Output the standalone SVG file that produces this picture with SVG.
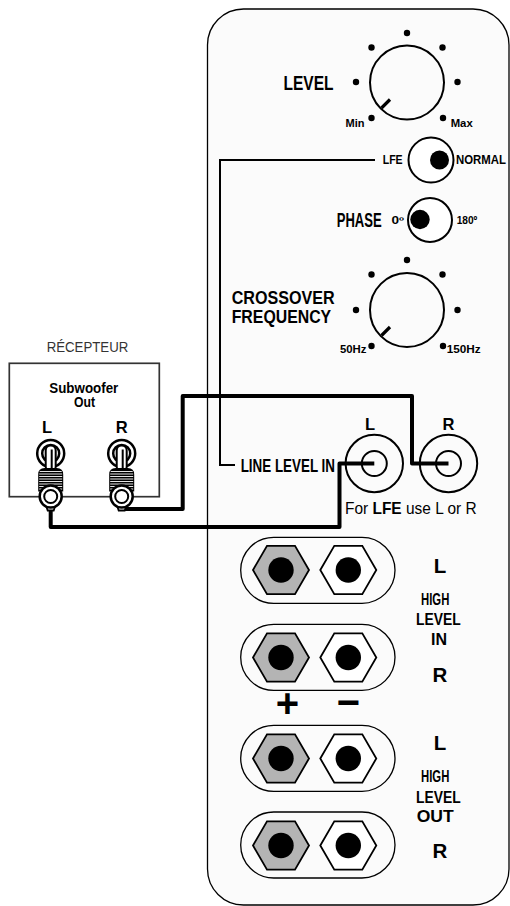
<svg xmlns="http://www.w3.org/2000/svg" xmlns:xlink="http://www.w3.org/1999/xlink" width="510" height="906" viewBox="0 0 510 906">
<style>
.t{font-family:"Liberation Sans",Arial,sans-serif;font-weight:bold;fill:#000}
.n{font-family:"Liberation Sans",Arial,sans-serif;font-weight:normal;fill:#000}
.knob{fill:none;stroke:#000;stroke-width:2}
.dot{fill:#000}
.tick{stroke:#000;stroke-width:3.2;stroke-linecap:butt}
.sw{fill:#fff;stroke:#000;stroke-width:2}
.pill{fill:none;stroke:#000;stroke-width:1.3}
.cable{fill:none;stroke:#000;stroke-width:4;stroke-linejoin:round;stroke-linecap:butt}
.lead{fill:none;stroke:#000;stroke-width:2}
</style>
<defs>
<g id="hexG">
<polygon points="-28,0 -14,-24.2 14,-24.2 28,0 14,24.2 -14,24.2" fill="#b4b4b4" stroke="#000" stroke-width="1.8"/>
<circle r="12.7" fill="#000"/>
</g>
<g id="hexW">
<polygon points="-28,0 -14,-24.2 14,-24.2 28,0 14,24.2 -14,24.2" fill="#fff" stroke="#000" stroke-width="1.8"/>
<circle r="12.7" fill="#000"/>
</g>
<g id="plug">
<circle cx="0" cy="0" r="13.5" fill="#fff" stroke="#000" stroke-width="2.5"/>
<circle cx="0" cy="0" r="8.5" fill="#fff" stroke="#000" stroke-width="2.5"/>
<rect x="-5" y="-8" width="10" height="26" rx="5" fill="#fff" stroke="#000" stroke-width="2"/>
<line x1="1" y1="-4" x2="1" y2="16" stroke="#000" stroke-width="2"/>
<path d="M-12.5,38 L-12.5,21 Q-12.5,14.5 -6,14.5 L6,14.5 Q12.5,14.5 12.5,21 L12.5,38 Z" fill="#000"/>
<g stroke="#fff" stroke-width="0.9">
<line x1="-11" y1="18" x2="11" y2="18"/>
<line x1="-11.5" y1="20.5" x2="11.5" y2="20.5"/>
<line x1="-11.5" y1="23" x2="11.5" y2="23"/>
<line x1="-11.5" y1="25.5" x2="11.5" y2="25.5"/>
<line x1="-11.5" y1="28" x2="11.5" y2="28"/>
<line x1="-11.5" y1="30.5" x2="11.5" y2="30.5"/>
<line x1="-11.5" y1="33" x2="11.5" y2="33"/>
<line x1="-11.5" y1="35.5" x2="11.5" y2="35.5"/>
</g>
<path d="M-6,48 L-3,57 L3,57 L6,48 Z" fill="#fff" stroke="#000" stroke-width="1.8"/>
<circle cx="0" cy="43" r="11" fill="#fff" stroke="#000" stroke-width="2.5"/>
<circle cx="0" cy="43" r="6.5" fill="#fff" stroke="#000" stroke-width="2"/>
</g>
</defs>

<g id="panel">
<rect x="207.5" y="9" width="301.5" height="896" rx="36" ry="36" fill="#fbfbfb" stroke="#000" stroke-width="1.3"/>
</g>

<g id="level-knob">
<circle class="knob" cx="407" cy="82.5" r="37"/>
<line class="tick" x1="390" y1="99.5" x2="381.5" y2="108"/>
<circle class="dot" cx="407" cy="33" r="3.2"/>
<circle class="dot" cx="371.5" cy="47.5" r="3.2"/>
<circle class="dot" cx="442.5" cy="47.5" r="3.2"/>
<circle class="dot" cx="356" cy="82" r="3.2"/>
<circle class="dot" cx="457.5" cy="82" r="3.2"/>
<circle class="dot" cx="371.5" cy="118" r="3.2"/>
<circle class="dot" cx="443" cy="118" r="3.2"/>
<text class="t" x="283.5" y="90" font-size="20.5" textLength="50" lengthAdjust="spacingAndGlyphs">LEVEL</text>
<text class="t" x="345.5" y="127" font-size="11.5" textLength="19" lengthAdjust="spacingAndGlyphs">Min</text>
<text class="t" x="450.7" y="127" font-size="11.5" textLength="22" lengthAdjust="spacingAndGlyphs">Max</text>
</g>

<g id="lfe-switch">
<circle class="sw" cx="431" cy="160" r="22.5"/>
<circle class="dot" cx="439.5" cy="160" r="9.5"/>
<text class="t" x="382.7" y="164" font-size="12" textLength="20" lengthAdjust="spacingAndGlyphs">LFE</text>
<text class="t" x="456" y="164" font-size="12" textLength="50" lengthAdjust="spacingAndGlyphs">NORMAL</text>
</g>

<g id="phase-switch">
<circle class="sw" cx="430" cy="220" r="22"/>
<circle class="dot" cx="420" cy="219.5" r="9.7"/>
<text class="t" transform="translate(336.7,227.3) scale(0.637,1)" x="0" y="0" font-size="20.5">PHASE</text>
<text class="t" x="391.5" y="224" font-size="10" textLength="12.5" lengthAdjust="spacingAndGlyphs">0º</text>
<text class="t" x="456.7" y="224" font-size="10.5" textLength="20.6" lengthAdjust="spacingAndGlyphs">180º</text>
</g>

<g id="crossover-knob">
<circle class="knob" cx="407" cy="310" r="37"/>
<line class="tick" x1="390" y1="327" x2="381.5" y2="335.5"/>
<circle class="dot" cx="407" cy="260" r="3.2"/>
<circle class="dot" cx="371.5" cy="274.5" r="3.2"/>
<circle class="dot" cx="442.5" cy="274.5" r="3.2"/>
<circle class="dot" cx="356" cy="310" r="3.2"/>
<circle class="dot" cx="457.5" cy="310" r="3.2"/>
<circle class="dot" cx="371.5" cy="346" r="3.2"/>
<circle class="dot" cx="443" cy="346" r="3.2"/>
<text class="t" x="231.7" y="304" font-size="18.5" textLength="103" lengthAdjust="spacingAndGlyphs">CROSSOVER</text>
<text class="t" x="231.7" y="323" font-size="18.5" textLength="99.5" lengthAdjust="spacingAndGlyphs">FREQUENCY</text>
<text class="t" x="340" y="353.3" font-size="11" textLength="26.5" lengthAdjust="spacingAndGlyphs">50Hz</text>
<text class="t" x="446.7" y="353.3" font-size="11" textLength="34" lengthAdjust="spacingAndGlyphs">150Hz</text>
</g>

<g id="line-in-L">
<circle cx="374.3" cy="463.5" r="28.7" fill="none" stroke="#000" stroke-width="2"/>
<circle cx="374.3" cy="463.5" r="12.5" fill="none" stroke="#000" stroke-width="2"/>
<text class="t" x="370" y="430" font-size="16.5" text-anchor="middle">L</text>
</g>

<g id="line-in-R">
<circle cx="448.5" cy="463.5" r="28.7" fill="none" stroke="#000" stroke-width="2"/>
<circle cx="448.5" cy="463.5" r="12.5" fill="none" stroke="#000" stroke-width="2"/>
<text class="t" x="448.5" y="430" font-size="16.5" text-anchor="middle">R</text>
</g>

<g id="line-level-labels">
<text class="t" x="240.7" y="471.5" font-size="17.5" textLength="94.3" lengthAdjust="spacingAndGlyphs">LINE LEVEL IN</text>
<text class="n" x="345" y="514" font-size="16.5" textLength="131.7" lengthAdjust="spacingAndGlyphs">For <tspan font-weight="bold">LFE</tspan> use L or R</text>
</g>

<g id="high-level-in-L">
<rect class="pill" x="240.7" y="537.3" width="154.3" height="66" rx="33"/>
<use xlink:href="#hexG" href="#hexG" x="281" y="570"/>
<use xlink:href="#hexW" href="#hexW" x="348.3" y="570"/>
</g>
<g id="high-level-in-R">
<rect class="pill" x="240.7" y="624.3" width="154.3" height="66" rx="33"/>
<use xlink:href="#hexG" href="#hexG" x="281" y="657.5"/>
<use xlink:href="#hexW" href="#hexW" x="348.3" y="657.5"/>
</g>
<g id="high-level-out-L">
<rect class="pill" x="240.7" y="725.3" width="154.3" height="66" rx="33"/>
<use xlink:href="#hexG" href="#hexG" x="281" y="758.5"/>
<use xlink:href="#hexW" href="#hexW" x="348.3" y="758.5"/>
</g>
<g id="high-level-out-R">
<rect class="pill" x="240.7" y="812" width="154.3" height="66" rx="33"/>
<use xlink:href="#hexG" href="#hexG" x="281" y="845.5"/>
<use xlink:href="#hexW" href="#hexW" x="348.3" y="845.5"/>
</g>

<g id="high-level-labels">
<text class="t" x="440" y="573.3" font-size="20.5" text-anchor="middle">L</text>
<text class="t" x="421" y="605" font-size="16" textLength="28.3" lengthAdjust="spacingAndGlyphs">HIGH</text>
<text class="t" x="416" y="625" font-size="16" textLength="44.7" lengthAdjust="spacingAndGlyphs">LEVEL</text>
<text class="t" x="439" y="645" font-size="16" text-anchor="middle">IN</text>
<text class="t" x="440" y="681.7" font-size="20.5" text-anchor="middle">R</text>
<text class="t" x="287.5" y="717" font-size="40" text-anchor="middle">+</text>
<text class="t" x="348.3" y="716" font-size="40" text-anchor="middle">−</text>
<text class="t" x="440" y="750" font-size="20.5" text-anchor="middle">L</text>
<text class="t" x="421" y="782" font-size="16" textLength="28.3" lengthAdjust="spacingAndGlyphs">HIGH</text>
<text class="t" x="416" y="802.5" font-size="16" textLength="44.7" lengthAdjust="spacingAndGlyphs">LEVEL</text>
<text class="t" x="416.7" y="822" font-size="16" textLength="37" lengthAdjust="spacingAndGlyphs">OUT</text>
<text class="t" x="440" y="858.3" font-size="20.5" text-anchor="middle">R</text>
</g>

<g id="receiver">
<text class="n" x="46.7" y="351.7" font-size="14" style="fill:#333" textLength="81.6" lengthAdjust="spacingAndGlyphs">RÉCEPTEUR</text>
<rect x="9.3" y="363.3" width="150" height="133.4" fill="none" stroke="#333" stroke-width="1.7"/>
<text class="t" x="49.3" y="393" font-size="14" textLength="69" lengthAdjust="spacingAndGlyphs">Subwoofer</text>
<text class="t" x="74" y="407.3" font-size="14" textLength="21" lengthAdjust="spacingAndGlyphs">Out</text>
<text class="t" x="47" y="432.7" font-size="16.5" text-anchor="middle">L</text>
<text class="t" x="121.7" y="432.7" font-size="16.5" text-anchor="middle">R</text>
</g>

<g id="connectors">
<polyline class="lead" points="375,160 220,160 220,465 235,465"/>
<polyline class="cable" points="122,509 182.7,509 182.7,396 412,396 412,463.5 448.5,463.5"/>
<polyline class="cable" points="50.7,509 50.7,527 339.5,527 339.5,463.5 374.3,463.5"/>
</g>

<g id="plug-L">
<use xlink:href="#plug" href="#plug" x="50.7" y="453.5"/>
</g>
<g id="plug-R">
<use xlink:href="#plug" href="#plug" x="121.7" y="453.5"/>
</g>
</svg>
